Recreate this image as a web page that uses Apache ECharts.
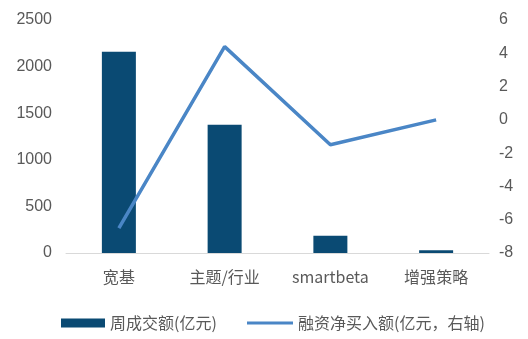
<!DOCTYPE html>
<html>
<head>
<meta charset="utf-8">
<script src="https://cdn.jsdelivr.net/npm/echarts@6/dist/echarts.min.js"></script>
<style>html,body{margin:0;padding:0;background:#fff}#c{width:528px;height:339px}</style>
</head>
<body>
<div id="c"></div>
<script>
const categories = ['宽基', '主题/行业', 'smartbeta', '增强策略'];
const weeklyTurnover = [2160, 1375, 186, 30];
const netMarginBuy = [-6.5, 4.4, -1.5, 0.0];
const leftTicks = { min: 0, max: 2500, interval: 500 };
const rightTicks = { min: -8, max: 6, interval: 2 };
const seriesNames = ['周成交额(亿元)', '融资净买入额(亿元，右轴)'];

const numFont = '"Liberation Sans", Arial, sans-serif';
const cjkFont = '"Noto Sans CJK SC", "Liberation Sans", sans-serif';
const textColor = '#595959';
const chart = echarts.init(document.getElementById('c'));
chart.setOption({
  animation: false,
  backgroundColor: '#fff',
  grid: { left: 66, right: 39, top: 20, bottom: 86 },
  legend: [
    {
      data: [seriesNames[0]], left: 56, top: 310, itemWidth: 44, itemHeight: 9, icon: 'rect',
      textStyle: { fontFamily: cjkFont, fontSize: 16, color: textColor }
    },
    {
      data: [seriesNames[1]], left: 242, top: 310, itemWidth: 46, itemHeight: 3, icon: 'rect',
      textStyle: { fontFamily: cjkFont, fontSize: 16, color: textColor }
    }
  ],
  xAxis: {
    type: 'category', data: categories,
    axisLine: { lineStyle: { color: '#d9d9d9', width: 1 } },
    axisTick: { inside: true, length: 4, lineStyle: { color: '#d9d9d9' } },
    axisLabel: { fontFamily: cjkFont, fontSize: 16, color: textColor, margin: 16 }
  },
  yAxis: [
    {
      type: 'value', min: leftTicks.min, max: leftTicks.max, interval: leftTicks.interval,
      splitLine: { show: false }, axisLine: { show: false }, axisTick: { show: false },
      axisLabel: { fontFamily: numFont, fontSize: 16, color: textColor, margin: 14, formatter: v => String(v) }
    },
    {
      type: 'value', min: rightTicks.min, max: rightTicks.max, interval: rightTicks.interval,
      splitLine: { show: false }, axisLine: { show: false }, axisTick: { show: false },
      axisLabel: { fontFamily: numFont, fontSize: 16, color: textColor, margin: 10, formatter: v => String(v) }
    }
  ],
  series: [
    {
      name: seriesNames[0], type: 'bar', data: weeklyTurnover, barWidth: 34,
      itemStyle: { color: '#0a4a73' }
    },
    {
      name: seriesNames[1], type: 'line', yAxisIndex: 1, data: netMarginBuy,
      showSymbol: false, symbol: 'none',
      lineStyle: { color: '#4a86c6', width: 3.5 },
      itemStyle: { color: '#4a86c6' }
    }
  ]
});
</script>
</body>
</html>
